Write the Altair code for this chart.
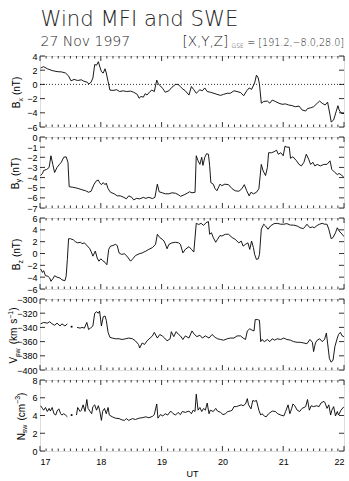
import altair as alt
import pandas as pd

# ---------------- data (decimal UT hours) ----------------
HOURS = [17, 18, 19, 20, 21, 22]
MINOR = [round(h + k / 10, 1) for h in range(17, 22) for k in range(1, 10)]

BX_T = [17.01, 17.06, 17.12, 17.20, 17.28, 17.36, 17.42, 17.47, 17.51, 17.56,
        17.62, 17.68, 17.72, 17.78, 17.80, 17.84, 17.87, 17.90, 17.93, 17.96,
        17.98, 18.01, 18.04, 18.07, 18.09, 18.12, 18.15, 18.20, 18.26, 18.31,
        18.37, 18.42, 18.49, 18.54, 18.60, 18.63, 18.66, 18.70, 18.73, 18.76,
        18.81, 18.84, 18.88, 18.92, 18.95, 18.98, 19.02, 19.06, 19.12, 19.17,
        19.23, 19.27, 19.31,
        19.34, 19.39, 19.45, 19.49, 19.53, 19.57, 19.63, 19.67, 19.71, 19.75,
        19.80, 19.86, 19.91, 19.97, 20.02, 20.08, 20.13, 20.19, 20.24, 20.30,
        20.35, 20.40, 20.44, 20.48, 20.53, 20.56, 20.59, 20.61, 20.64, 20.68,
        20.74, 20.78, 20.82, 20.87, 20.93, 20.98, 21.04, 21.09, 21.15, 21.20,
        21.26, 21.31, 21.37, 21.40, 21.45, 21.50, 21.56, 21.60, 21.64, 21.69,
        21.73, 21.77, 21.79, 21.83, 21.87, 21.90, 21.92, 21.96, 22.00]
BX_V = [2.3, 2.5, 2.2, 1.95, 1.8, 1.75, 1.6, 1.2, 0.5, 0.7,
        0.55, 0.65, 0.45, 0.3, 0.05, 0.3, 0.9, 2.8, 2.7, 3.2,
        2.6, 1.8, 1.6, 2.2, 1.6, 0.4, -0.8, -0.85, -0.75, -1.0,
        -0.9, -1.0, -0.95, -1.1, -1.4, -1.95, -1.7, -1.8, -1.3, -1.5,
        -1.0, -0.8, -1.0, 0.6, 0.0, -0.2, -0.6, -1.1, -0.9, -0.4,
        0.0, 0.0, -0.3,
        -0.6, -0.9, -1.5, -0.3, -0.75, -1.25, -0.75, -0.9, -0.5, -1.0,
        -1.1, -1.25, -1.4, -1.55, -1.4, -1.25, -1.25, -0.9, -1.0, -1.15,
        -1.6, -0.9, -0.5, -0.7, 0.2, 1.3, 0.9, 0.0, -2.65, -2.4,
        -2.35, -2.65, -2.2, -2.4, -2.65, -2.8, -2.75, -2.9, -3.0, -3.15,
        -3.05, -3.6, -3.75, -3.4, -3.3, -3.15, -2.65, -2.35, -2.65, -2.9,
        -2.5, -4.3, -5.3, -5.0, -3.85, -3.0, -3.6, -4.1, -4.1]

BY_T = [17.01, 17.04, 17.06, 17.11, 17.15, 17.18, 17.21, 17.24, 17.28, 17.32,
        17.35, 17.39, 17.43, 17.46, 17.48, 17.53, 17.58, 17.64, 17.69, 17.75,
        17.80, 17.84, 17.89, 17.93, 17.96, 17.98, 18.01, 18.04, 18.07, 18.09,
        18.12, 18.16, 18.22, 18.27, 18.32, 18.38, 18.42, 18.46, 18.51, 18.54,
        18.59, 18.64, 18.70, 18.74, 18.79, 18.85, 18.89, 18.93, 18.96, 19.01,
        19.06, 19.12, 19.17, 19.23, 19.28, 19.31,
        19.37, 19.42, 19.46, 19.50, 19.55, 19.57, 19.60, 19.63, 19.66, 19.68,
        19.71, 19.74, 19.77, 19.79, 19.81, 19.85, 19.88, 19.91, 19.96, 19.99,
        20.04, 20.10, 20.16, 20.21, 20.27, 20.32, 20.36, 20.40, 20.44, 20.47,
        20.51, 20.56, 20.60, 20.64, 20.67, 20.71, 20.74, 20.76, 20.81, 20.85,
        20.89, 20.92, 20.96, 21.00, 21.03, 21.06, 21.10, 21.12, 21.16, 21.22,
        21.26, 21.30, 21.34, 21.38, 21.42, 21.45, 21.49, 21.52, 21.56, 21.61,
        21.67, 21.72, 21.77, 21.80, 21.85, 21.89, 21.92, 21.96, 22.00]
BY_V = [-3.8, -3.6, -3.3, -3.2, -3.0, -1.85, -2.7, -3.5, -3.0, -2.7,
        -2.5, -2.0, -1.95, -2.5, -4.9, -4.95, -5.0, -5.1, -5.2, -5.3,
        -5.45, -5.35, -4.65, -4.3, -4.25, -4.5, -4.7, -4.5, -4.7, -4.55,
        -5.1, -5.45, -5.6, -5.8, -5.8, -5.95, -6.1, -5.8, -5.95, -6.2,
        -6.05, -6.1, -5.95, -6.05, -5.95, -6.07, -5.95, -4.65, -5.4, -5.5,
        -5.6, -5.6, -5.5, -5.55, -5.7, -5.85,
        -5.7, -5.55, -5.4, -5.5, -5.45, -1.85, -2.35, -2.7, -2.0, -2.8,
        -2.0, -1.65, -1.7, -2.8, -4.5, -4.65, -5.1, -5.3, -4.65, -4.8,
        -4.65, -4.7, -5.1, -5.3, -5.35, -5.1, -4.7, -5.3, -5.8, -5.45,
        -5.6, -5.45, -5.1, -2.7, -3.35, -3.8, -3.0, -1.55, -1.55, -1.45,
        -1.3, -1.7, -1.55, -1.85, -0.9, -1.0, -1.0, -2.1, -1.95, -2.35,
        -2.7, -2.85, -2.5, -1.7, -2.2, -2.7, -2.5, -2.85, -2.7, -2.85,
        -2.7, -2.7, -2.35, -3.2, -3.5, -3.7, -3.6, -3.75, -4.0]

BZ_T = [17.01, 17.04, 17.06, 17.09, 17.13, 17.16, 17.18, 17.22, 17.24, 17.28,
        17.33, 17.36, 17.41, 17.43, 17.45, 17.47, 17.50, 17.55, 17.58, 17.62,
        17.67, 17.69, 17.73, 17.78, 17.82, 17.85, 17.87, 17.91, 17.94, 17.97,
        18.00, 18.03, 18.07, 18.10, 18.13, 18.16, 18.20, 18.24, 18.27, 18.30,
        18.34, 18.39, 18.43, 18.49, 18.53, 18.57, 18.63, 18.68, 18.74, 18.79,
        18.85, 18.90, 18.93, 18.97, 19.01, 19.04, 19.06, 19.09, 19.12, 19.17,
        19.23, 19.28, 19.31,
        19.35, 19.39, 19.45, 19.49, 19.53, 19.57, 19.61, 19.65, 19.69, 19.73,
        19.77, 19.79, 19.82, 19.85, 19.89, 19.92, 19.96, 19.99, 20.05, 20.10,
        20.16, 20.21, 20.27, 20.31, 20.34, 20.38, 20.42, 20.45, 20.48, 20.51,
        20.53, 20.56, 20.59, 20.61, 20.64, 20.68, 20.71, 20.75, 20.79, 20.85,
        20.90, 20.96, 21.01, 21.06, 21.12, 21.17, 21.23, 21.28, 21.33, 21.37,
        21.39, 21.44, 21.48, 21.51, 21.56, 21.60, 21.64, 21.68, 21.72, 21.75,
        21.79, 21.82, 21.86, 21.89, 21.92, 21.97, 22.00]
BZ_V = [-2.6, -3.2, -2.9, -3.75, -3.85, -4.15, -4.7, -4.15, -3.75, -4.0,
        -4.15, -4.45, -4.6, -3.85, -1.0, 2.5, 2.5, 2.3, 2.0, 1.8,
        1.9, 1.65, 1.8, 1.25, 0.8, 0.1, -0.45, 0.4, -0.75, -1.3,
        -0.9, -1.2, -1.5, -1.9, 0.7, 1.25, 1.35, 1.55, 1.35, 0.1,
        -0.15, -0.05, -0.45, -1.3, -0.85, -0.35, -0.05, 0.1, 0.4, 0.7,
        1.0, 1.55, 3.25, 2.7, 2.4, 2.1, 1.65, 0.8, 1.55, 1.8,
        1.9, 1.8, 1.55,
        0.1, 0.7, 1.15, 0.7, 0.25, 5.1, 4.9, 5.1, 4.75, 5.2,
        5.4, 3.25, 3.5, 2.7, 1.9, 2.4, 3.05, 2.95, 3.25, 3.25,
        2.7, 2.4, 1.8, 2.1, 1.25, 1.55, 1.8, 0.7, 2.1, 1.0,
        -0.15, -1.0, -0.9, -0.15, 4.1, 4.95, 4.65, 4.1, 4.65, 5.05,
        5.1, 4.95, 4.95, 5.05, 4.8, 4.8, 4.65, 4.35, 4.2, 4.65,
        4.95, 4.35, 4.5, 4.35, 4.75, 4.95, 5.1, 4.95, 4.95, 4.1,
        2.5, 2.7, 3.5, 4.35, 3.8, 3.25, 2.85]

# None marks a data gap
VSW_T = [17.01, 17.06, 17.12, 17.16, 17.20, 17.24, 17.28, 17.33, 17.36, 17.41, 17.45,
         None, 17.52, None,
         17.61, 17.66, 17.69, 17.73, 17.77, 17.80, 17.83, 17.87, 17.90, 17.93,
         17.96, 17.98, 18.01, 18.04, 18.07, 18.09, 18.12, 18.15, 18.19, 18.24,
         18.30, 18.35, 18.41, 18.46, 18.52, 18.57, 18.62, 18.64, 18.68, 18.72,
         18.76, 18.81, 18.85, 18.88, 18.93, 18.97, 19.01, 19.05, 19.09, 19.14,
         19.16, 19.20, 19.24, 19.28, 19.31,
         19.35, 19.39, 19.45, 19.50, 19.54, 19.58, 19.63, 19.67, 19.72, 19.78,
         19.83, 19.88, 19.92, 19.97, 20.02, 20.08, 20.13, 20.19, 20.24, 20.30,
         20.34, 20.38, 20.41, 20.45, 20.49, 20.52, 20.54, 20.58, 20.61, 20.63,
         20.65, 20.69, 20.74, 20.78, 20.82, 20.86, 20.90, 20.96, 21.01, 21.06,
         21.12, 21.17, 21.23, 21.28, 21.34, 21.39, 21.44, 21.48, 21.50, 21.53,
         21.56, 21.60, 21.64, 21.68, 21.71, 21.73, 21.76, 21.79, 21.82, 21.85,
         21.89, 21.91, 21.94, 21.97, 22.00]
VSW_V = [-335, -333, -334, -332, -335, -337, -334, -338, -335, -338, -335,
         None, -339, None,
         -340, -341, -340, -341, -333, -343, -341, -338, -320, -318,
         -320, -317, -338, -325, -324, -330, -347, -354, -355, -356,
         -356, -357, -356, -355, -356, -359, -364, -369, -362, -364,
         -359, -355, -352, -347, -355, -350, -352, -355, -359, -356,
         -346, -353, -346, -350, -352,
         -357, -352, -355, -345, -350, -353, -351, -355, -352, -355,
         -350, -354, -356, -357, -358, -356, -355, -355, -352, -352,
         -355, -357, -345, -342, -344, -345, -329, -329, -330, -360,
         -357, -360, -357, -360, -356, -358, -356, -357, -355, -357,
         -358, -360, -361, -361, -362, -363, -357, -361, -374, -362,
         -358, -356, -360, -357, -348, -362, -384, -389, -386, -367,
         -355, -350, -347, -352, -353]

NSW_T = [17.01, 17.04, 17.06, 17.09, 17.12, 17.15, 17.17, 17.20, 17.23, 17.26,
         17.28, 17.31, 17.34, 17.36, 17.39, 17.42, 17.45,
         None, 17.52, None,
         17.60, 17.62, 17.66, 17.68, 17.71, 17.74, 17.77, 17.79, 17.82, 17.85,
         17.87, 17.90, 17.93, 17.96, 17.98, 18.01, 18.03, 18.06, 18.09, 18.12,
         18.14, 18.19, 18.24, 18.30, 18.35, 18.39, 18.42, 18.46, 18.52, 18.57,
         18.63, 18.68, 18.74, 18.79, 18.85, 18.88, 18.92, 18.94, 18.98, 19.02,
         19.06, 19.10, 19.15, 19.19, 19.23, 19.27, 19.31,
         19.34, 19.39, 19.45, 19.49, 19.52, 19.55, 19.57, 19.60, 19.63, 19.66,
         19.69, 19.72, 19.75, 19.78, 19.80, 19.85, 19.89, 19.92, 19.97, 20.01,
         20.05, 20.09, 20.13, 20.16, 20.19, 20.23, 20.27, 20.31, 20.34, 20.38,
         20.41, 20.43, 20.47, 20.50, 20.53, 20.56, 20.60, 20.63, 20.65, 20.69,
         20.72, 20.76, 20.82, 20.87, 20.91, 20.96, 21.01, 21.04, 21.08, 21.11,
         21.14, 21.16, 21.19, 21.23, 21.27, 21.31, 21.37, 21.40, 21.43, 21.46,
         21.50, 21.55, 21.59, 21.62, 21.67, 21.69, 21.72, 21.75, 21.78, 21.80,
         21.83, 21.86, 21.89, 21.91, 21.95, 22.00]
NSW_V = [5.1, 4.8, 4.6, 4.9, 4.45, 4.8, 4.5, 4.9, 4.2, 4.05,
         4.5, 4.75, 4.2, 4.05, 4.2, 4.05, 3.85,
         None, 4.05, None,
         4.05, 4.9, 4.45, 4.6, 5.2, 4.45, 5.8, 4.8, 4.5, 4.2,
         5.0, 5.2, 4.6, 5.1, 4.6, 3.45, 4.45, 4.8, 4.2, 4.9,
         4.05, 3.85, 3.7, 3.65, 3.5, 3.45, 3.65, 3.45, 3.65, 3.55,
         3.7, 3.75, 3.85, 3.75, 3.9, 4.1, 5.3, 3.7, 4.1, 3.95,
         4.2, 4.05, 4.5, 4.2, 4.05, 4.35, 4.1,
         4.45, 4.35, 4.5, 4.2, 4.6, 4.45, 6.4, 4.6, 4.9, 4.45,
         4.8, 4.6, 5.4, 4.2, 4.6, 4.45, 4.8, 4.5, 4.35, 4.1,
         4.2, 4.45, 4.5, 4.6, 5.0, 5.0, 5.1, 5.2, 5.1, 5.3,
         5.9, 5.2, 4.75, 5.7, 5.6, 5.7, 4.6, 4.05, 4.2, 3.95,
         3.85, 4.2, 4.5, 4.45, 4.2, 4.05, 3.95, 4.45, 5.2, 4.2,
         4.8, 5.3, 5.1, 4.6, 4.45, 4.8, 5.0, 5.8, 4.6, 5.1,
         5.0, 5.1, 5.0, 5.4, 5.6, 5.4, 4.8, 5.2, 4.05, 4.6,
         5.0, 3.95, 4.45, 4.05, 4.6, 5.0]

BX_TICKS = [-6, -4, -2, 0, 2, 4]
BY_TICKS = [-7, -6, -5, -4, -3, -2, -1, 0]
BZ_TICKS = [-6, -4, -2, 0, 2, 4, 6]
VSW_TICKS = [-400, -380, -360, -340, -320, -300]
NSW_TICKS = [0, 2, 4, 6, 8]

TITLE = "Wind MFI and SWE"
DATE = "27 Nov 1997"
POS_LEFT, POS_SUB, POS_RIGHT = "[X,Y,Z]", "GSE", "= [191.2,\u22128.0,28.0]"

# ---------------- layout / style ----------------
W, H, GAP = 304, 71, 10
FONT = "Liberation Sans"
TFONT = "DejaVu Sans"
INK = "black"
ONE = pd.DataFrame({"k": [0]})
CW = {"B": 0.667, "x": 0.5, "y": 0.5, "z": 0.5, "(": 0.333, ")": 0.333,
      "n": 0.556, "T": 0.611, "V": 0.667, "s": 0.5, "w": 0.722, "k": 0.5, "m": 0.833,
      "\u2212": 0.584, "1": 0.556, "N": 0.722, "c": 0.5, "3": 0.556}


def tw(s, size):
    return sum(CW.get(c, 0.55) for c in s) * size


def frame(t, v):
    assert len(t) == len(v), (len(t), len(v))
    rows, seg = [], 0
    for ti, vi in zip(t, v):
        if ti is None:
            seg += 1
            continue
        rows.append((ti, vi, seg))
    df = pd.DataFrame(rows, columns=["t", "v", "seg"])
    df["n"] = df.groupby("seg")["t"].transform("count")
    return df


def text(s, x, y, size, angle=None, align="left", font=FONT, weight="normal", color=INK):
    kw = dict(text=s, fontSize=size, font=font, fontWeight=weight, align=align,
              baseline="alphabetic", color=color)
    if angle is not None:
        kw["angle"] = angle
    return alt.Chart(ONE).mark_text(**kw).encode(x=alt.value(x), y=alt.value(y))


def ytitle(parts, xb, yc):
    # parts: (text, size, kind); kind: n / sub / sup / gap (gap: advance only, in px)
    def adv(p):
        s, sz, kind = p
        return sz if kind == "gap" else tw(s, sz)
    total = sum(adv(p) for p in parts)
    y = yc + total / 2
    out = []
    for p in parts:
        s, sz, kind = p
        if kind != "gap":
            dx = {"n": 0, "sub": 2.5, "sup": -4.5}[kind]
            out.append(text(s, xb + dx, y, sz, angle=270))
        y -= adv(p)
    return out


def panel(t, v, dom, ticks, tparts, tx, last=False, zero=False, extra=()):
    df = frame(t, v)
    xs = alt.Scale(domain=[17, 22], nice=False, zero=False)
    ys = alt.Scale(domain=dom, nice=False, zero=False)
    common = dict(domain=False, grid=False, ticks=False, labelColor=INK,
                  labelFont=FONT, labelFontSize=9)
    xkw = dict(orient="bottom", values=HOURS, labels=last, labelPadding=6, format="d", **common)
    if last:
        xkw.update(title="UT", titleFont=FONT, titleFontSize=9, titleFontWeight="normal",
                   titleColor=INK, titlePadding=3)
    else:
        xkw.update(title=None)
    line = alt.Chart(df).mark_line(color=INK, strokeWidth=0.9, clip=True).encode(
        x=alt.X("t:Q", scale=xs, axis=alt.Axis(**xkw)),
        y=alt.Y("v:Q", scale=ys, axis=alt.Axis(orient="left", values=ticks, labelPadding=3,
                                                title=None, **common)),
        detail="seg:N")
    layers = [line]

    def xticks(vals, y0, y1):
        return alt.Chart(pd.DataFrame({"t": vals})).mark_rule(color=INK, strokeWidth=0.8).encode(
            x=alt.X("t:Q", scale=xs, axis=None), y=alt.value(y0), y2=alt.value(y1))

    def yticks(x0, x1):
        return alt.Chart(pd.DataFrame({"v": ticks})).mark_rule(color=INK, strokeWidth=0.8).encode(
            y=alt.Y("v:Q", scale=ys, axis=None), x=alt.value(x0), x2=alt.value(x1))

    layers += [xticks(HOURS, 0, 5), xticks(MINOR, 0, 2.5),
               xticks(HOURS, H - 5, H), xticks(MINOR, H - 2.5, H),
               yticks(0, 5), yticks(W - 5, W)]
    iso = df[df["n"] == 1]
    if len(iso):
        layers.append(alt.Chart(iso).mark_square(size=3, color=INK, opacity=1).encode(
            x=alt.X("t:Q", scale=xs, axis=None), y=alt.Y("v:Q", scale=ys, axis=None)))
    if zero:
        layers.append(alt.Chart(ONE).mark_rule(color=INK, strokeWidth=0.8, strokeDash=[1, 2]).encode(
            y=alt.YDatum(0, scale=ys, axis=None)))
    layers += ytitle(tparts, tx, H / 2 + 1)
    layers += list(extra)
    return alt.layer(*layers).resolve_axis(x="independent", y="independent").properties(
        width=W, height=H)


anchor = alt.Chart(ONE).mark_rule(opacity=0).encode(
    x=alt.value(-39.5), x2=alt.value(-39.5), y=alt.value(-55), y2=alt.value(-50))
TCOL = "#222"
titles = [
    anchor,
    text(TITLE, 0.5, -30, 21.2, font=TFONT, weight=200, color=TCOL),
    text(DATE, 0.5, -10, 14, font=TFONT, weight=200, color=TCOL),
    text(POS_LEFT, 142.5, -10, 13.5, font=TFONT, weight=200, color=TCOL),
    text(POS_SUB, 191.5, -8, 6, font=TFONT, weight=200, color=TCOL),
    text(POS_RIGHT, 304, -10, 9.6, align="right", font=TFONT, weight=200, color=TCOL),
]

UNIT_NT = [("(nT)", 10, "n")]
p1 = panel(BX_T, BX_V, [-6, 4], BX_TICKS,
           [("B", 10, "n"), ("x", 7, "sub"), ("", 3, "gap")] + UNIT_NT, -20, zero=True, extra=titles)
p2 = panel(BY_T, BY_V, [-7, 0], BY_TICKS,
           [("B", 10, "n"), ("y", 7, "sub"), ("", 3, "gap")] + UNIT_NT, -21.5)
p3 = panel(BZ_T, BZ_V, [-6, 6], BZ_TICKS,
           [("B", 10, "n"), ("z", 7, "sub"), ("", 3, "gap")] + UNIT_NT, -20)
p4 = panel(VSW_T, VSW_V, [-400, -300], VSW_TICKS,
           [("V", 10, "n"), ("sw", 7, "sub"), ("", 4, "gap"), ("(km", 10, "n"), ("", 4, "gap"),
            ("s", 10, "n"), ("\u22121", 7, "sup"), (")", 10, "n")], -23)
p5 = panel(NSW_T, NSW_V, [0, 8], NSW_TICKS,
           [("N", 10, "n"), ("sw", 7, "sub"), ("", 4, "gap"), ("(cm", 10, "n"),
            ("\u22123", 7, "sup"), (")", 10, "n")], -15.5, last=True)

chart = alt.vconcat(p1, p2, p3, p4, p5, spacing=GAP, bounds="flush").properties(
    padding={"left": 0, "top": 0, "right": 0, "bottom": 0}
).configure_view(stroke=INK, strokeWidth=1).configure(background="white")

chart.save("out.html", embed_options={"renderer": "svg", "actions": False})
